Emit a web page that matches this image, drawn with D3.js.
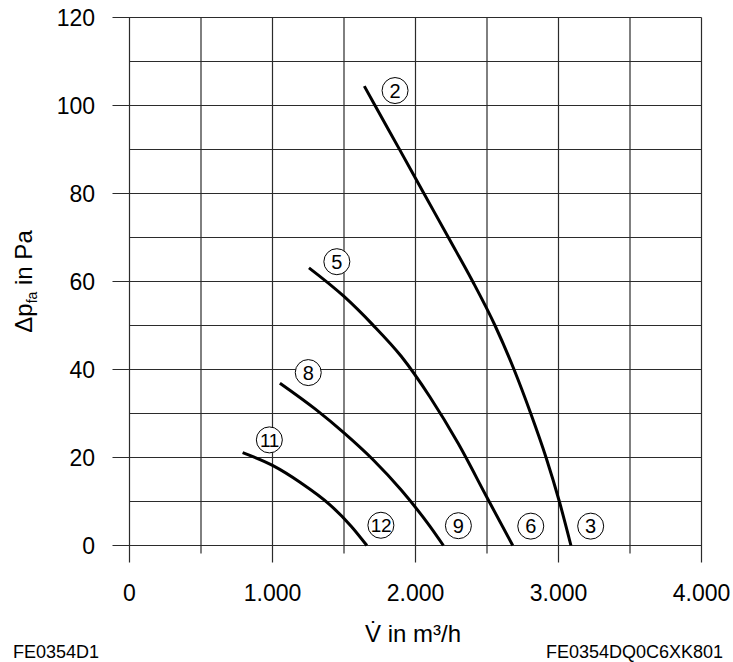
<!DOCTYPE html>
<html>
<head>
<meta charset="utf-8">
<script src="https://cdn.jsdelivr.net/npm/d3@7"></script>
<style>
  body { margin: 0; background: #fff; }
  svg { display: block; font-family: "Liberation Sans", Arial, sans-serif; }
  .grid line { stroke: #2b2b2b; stroke-width: 1.2; }
  .curve { fill: none; stroke: #000; stroke-width: 3; }
  .tag circle { fill: #fff; stroke: #000; stroke-width: 1; }
</style>
</head>
<body>
<svg id="chart" width="733" height="662"></svg>
<script>
// tick values
const xTicks = [0, 1000, 2000, 3000, 4000]
const xTickLabels = ["0", "1.000", "2.000", "3.000", "4.000"]
const yTicks = [0, 20, 40, 60, 80, 100, 120]

// characteristic curves [flow m3/h, pressure Pa]
const curve2 = [[1642, 104.4], [1717, 100], [1892, 89.8], [2059, 80], [2237, 69.6], [2400, 60],
                [2556, 50], [2689, 40], [2806, 30], [2913, 20], [3006, 10], [3087, 0]]
const curve5 = [[1255, 63.1], [1500, 56.6], [1700, 50.2], [1900, 43], [2100, 33.8], [2300, 23.1],
                [2500, 10.9], [2680, 0]]
const curve8 = [[1052, 36.9], [1300, 31], [1500, 25.6], [1700, 19.6], [1900, 12.6], [2100, 4.4],
                [2195, 0]]
const curve11 = [[791, 21.1], [1000, 18.2], [1200, 14.2], [1400, 9.3], [1550, 4.4], [1660, 0]]

// circled labels [flow, pressure, text]
const tags = [
  [1857, 103.4, "2"], [1450, 64.5, "5"], [1250, 39.3, "8"], [978, 24, "11"],
  [1758, 4.6, "12"], [2300, 4.5, "9"], [2806, 4.4, "6"], [3225, 4.4, "3"]
]

const svg = d3.select("#chart")

const x = d3.scaleLinear().domain([0, 4000]).range([129.5, 701.5])
const y = d3.scaleLinear().domain([0, 120]).range([545.5, 17.5])

// grid: every 500 / every 10, major lines run out past the frame
const grid = svg.append("g").attr("class", "grid")
grid.selectAll(".vx")
  .data(d3.range(0, 4001, 500))
  .enter().append("line")
  .attr("x1", d => x(d)).attr("x2", d => x(d))
  .attr("y1", y(120))
  .attr("y2", d => y(0) + (d % 1000 === 0 ? 17 : 8))

grid.selectAll(".hy")
  .data(d3.range(0, 121, 10))
  .enter().append("line")
  .attr("y1", d => y(d)).attr("y2", d => y(d))
  .attr("x1", d => d % 20 === 0 ? x(0) - 17 : x(0))
  .attr("x2", x(4000))

// tick labels
svg.append("g").selectAll("text")
  .data(xTicks)
  .enter().append("text")
  .attr("x", d => x(d))
  .attr("y", 601)
  .attr("text-anchor", "middle")
  .style("font-size", "23px")
  .text((d, i) => xTickLabels[i])

svg.append("g").selectAll("text")
  .data(yTicks)
  .enter().append("text")
  .attr("x", 95)
  .attr("y", d => y(d) + 8)
  .attr("text-anchor", "end")
  .style("font-size", "23px")
  .text(d => d)

// curves
const line = d3.line()
  .x(d => x(d[0]))
  .y(d => y(d[1]))
  .curve(d3.curveMonotoneX)

svg.append("g").selectAll("path")
  .data([curve2, curve5, curve8, curve11])
  .enter().append("path")
  .attr("class", "curve")
  .attr("d", line)

// circled numbers
const tag = svg.append("g").selectAll("g")
  .data(tags)
  .enter().append("g")
  .attr("class", "tag")
  .attr("transform", d => "translate(" + x(d[0]) + "," + y(d[1]) + ")")
tag.append("circle").attr("r", 13)
tag.append("text")
  .attr("text-anchor", "middle")
  .attr("y", 7)
  .style("font-size", d => d[2].length > 1 ? "19px" : "20px")
  .style("letter-spacing", d => d[2].length > 1 ? "-0.5px" : "0px")
  .text(d => d[2])

// axis titles
svg.append("text")
  .attr("x", 365).attr("y", 642)
  .style("font-size", "24px")
  .text("V\u0307 in m³/h")

svg.append("text")
  .attr("transform", "translate(32," + y(60) + ") rotate(-90)")
  .attr("text-anchor", "middle")
  .style("font-size", "24px")
  .call(t => {
    t.append("tspan").text("Δp")
    t.append("tspan").attr("dy", 5).style("font-size", "14px").text("fa")
    t.append("tspan").attr("dy", -5).text(" in Pa")
  })

// footer codes
svg.append("text").attr("x", 13).attr("y", 658)
  .style("font-size", "18px").text("FE0354D1")
svg.append("text").attr("x", 723).attr("y", 658)
  .attr("text-anchor", "end")
  .style("font-size", "18px").text("FE0354DQ0C6XK801")
</script>
</body>
</html>
